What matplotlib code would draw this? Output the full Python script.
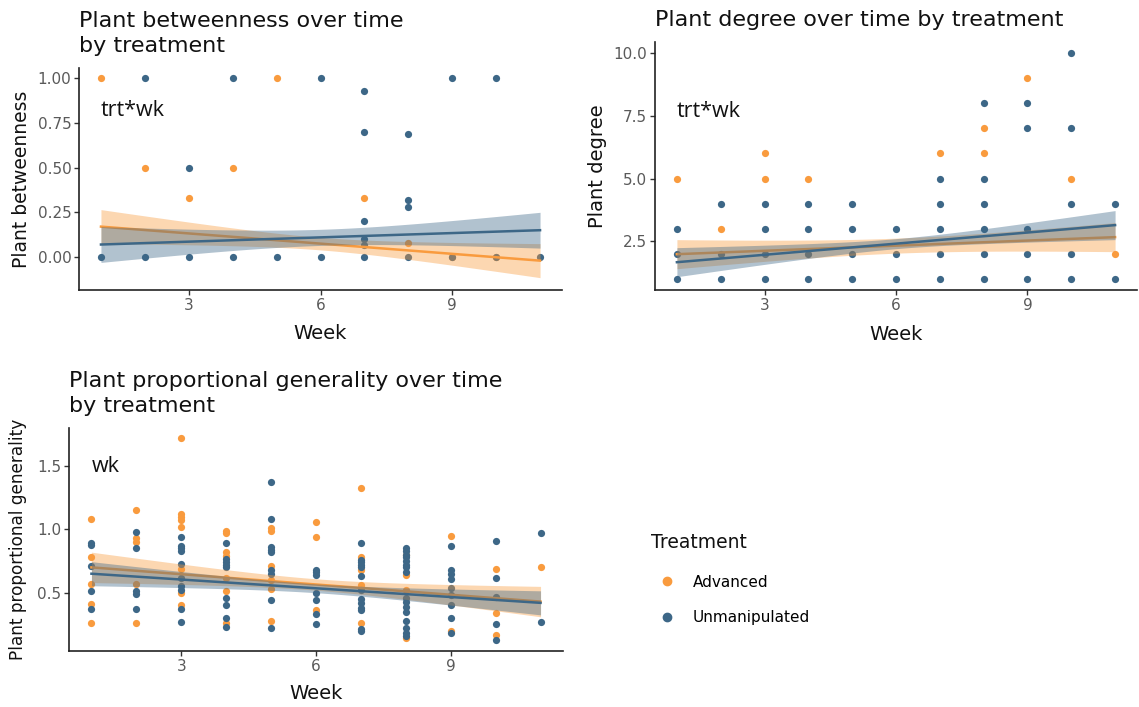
import numpy as np
import matplotlib
matplotlib.use("Agg")
import matplotlib.pyplot as plt
from matplotlib.lines import Line2D

plt.rcParams["font.family"] = ["DejaVu Sans"]

ORANGE = "#F99B3E"
BLUE = "#3D6787"
TREATMENTS = ["Advanced", "Unmanipulated"]

# --- Plant betweenness ---
btw_adv_wk = [1, 2, 3, 4, 5, 7, 8, 9, 10]
btw_adv_val = [1.00, 0.50, 0.33, 0.50, 1.00, 0.33, 0.08, 0.00, 0.00]
btw_unm_wk = [1, 2, 3, 4, 5, 6, 7, 8, 9, 10, 11,
              2, 4, 6, 9, 10, 3, 7, 7, 7, 7, 7, 8, 8, 8]
btw_unm_val = [0, 0, 0, 0, 0, 0, 0, 0, 0, 0, 0,
               1.00, 1.00, 1.00, 1.00, 1.00, 0.50, 0.93, 0.70, 0.20, 0.10, 0.07,
               0.69, 0.32, 0.28]
# fitted lm line (value at week 1, value at week 11) and CI half widths (ends, middle)
btw_fit_adv = [0.17, -0.02, 0.095, 0.035]
btw_fit_unm = [0.07, 0.15, 0.10, 0.045]

# --- Plant degree ---
deg_adv_wk = [1, 2, 3, 3, 4, 7, 8, 8, 9, 10, 11]
deg_adv_val = [5, 3, 6, 5, 5, 6, 7, 6, 9, 5, 2]
deg_unm_wk = [1, 1, 1, 2, 2, 2, 3, 3, 3, 3, 4, 4, 4, 4, 5, 5, 5, 5, 6, 6, 6,
              7, 7, 7, 7, 7, 8, 8, 8, 8, 8, 8, 9, 9, 9, 9, 9, 10, 10, 10, 10, 10, 11, 11]
deg_unm_val = [3, 2, 1, 4, 2, 1, 4, 3, 2, 1, 4, 3, 2, 1, 4, 3, 2, 1, 3, 2, 1,
               5, 4, 3, 2, 1, 8, 5, 4, 3, 2, 1, 8, 7, 3, 2, 1, 10, 7, 4, 2, 1, 4, 1]
deg_fit_adv = [1.98, 2.66, 0.58, 0.30]
deg_fit_unm = [1.66, 3.14, 0.58, 0.20]

# --- Plant proportional generality ---
gen_adv = {
    1: [1.08, 0.78, 0.57, 0.41, 0.26],
    2: [1.15, 0.93, 0.90, 0.57, 0.26],
    3: [1.72, 1.12, 1.10, 1.07, 1.02, 0.69, 0.50, 0.40],
    4: [0.99, 0.97, 0.82, 0.79, 0.62, 0.51, 0.26],
    5: [1.01, 0.99, 0.71, 0.60, 0.53, 0.28],
    6: [1.06, 0.94, 0.36],
    7: [1.33, 0.78, 0.68, 0.56, 0.26],
    8: [0.80, 0.64, 0.52, 0.14],
    9: [0.95, 0.20],
    10: [0.69, 0.34, 0.17],
    11: [0.70],
}
gen_unm = {
    1: [0.89, 0.88, 0.71, 0.51, 0.37],
    2: [0.98, 0.85, 0.51, 0.49, 0.37],
    3: [0.94, 0.87, 0.85, 0.83, 0.73, 0.62, 0.55, 0.52, 0.37, 0.27],
    4: [0.89, 0.77, 0.74, 0.72, 0.70, 0.46, 0.40, 0.30, 0.23],
    5: [1.37, 1.08, 0.86, 0.84, 0.82, 0.68, 0.65, 0.44, 0.22],
    6: [0.68, 0.66, 0.64, 0.50, 0.44, 0.33, 0.25],
    7: [0.89, 0.76, 0.74, 0.72, 0.70, 0.63, 0.52, 0.45, 0.42, 0.38, 0.36, 0.21, 0.20],
    8: [0.85, 0.83, 0.80, 0.78, 0.75, 0.72, 0.70, 0.66, 0.46, 0.43, 0.39, 0.35,
        0.28, 0.22, 0.18, 0.16],
    9: [0.87, 0.68, 0.65, 0.61, 0.54, 0.48, 0.40, 0.30, 0.18],
    10: [0.91, 0.62, 0.47, 0.25, 0.13],
    11: [0.97, 0.27],
}
gen_fit_adv = [0.70, 0.43, 0.12, 0.045]
gen_fit_unm = [0.65, 0.42, 0.095, 0.035]


def flatten(d):
    wk = [k for k, vals in d.items() for _ in vals]
    val = [v for vals in d.values() for v in vals]
    return wk, val


def draw_fit(ax, fit, color, z):
    y1, y11, hw_end, hw_mid = fit
    x = np.linspace(1, 11, 81)
    y = y1 + (y11 - y1) * (x - 1) / 10
    hw = np.sqrt(hw_mid ** 2 + (hw_end ** 2 - hw_mid ** 2) * ((x - 6) / 5) ** 2)
    ax.fill_between(x, y - hw, y + hw, color=color, alpha=0.4, lw=0, zorder=z)
    ax.plot(x, y, color=color, lw=1.8, zorder=z + 0.5)


def style_axes(ax, ylabel, ylab_x, xlab_y, ylab_size=14):
    for s in ("top", "right"):
        ax.spines[s].set_visible(False)
    for s in ("left", "bottom"):
        ax.spines[s].set_linewidth(1.2)
        ax.spines[s].set_color("#222222")
    ax.tick_params(length=3.5, width=1, color="#333333", labelsize=11,
                   labelcolor="#5A5A5A", pad=2)
    ax.set_xlim(0.5, 11.5)
    ax.set_xticks([3, 6, 9])
    ax.set_xlabel("Week", fontsize=14, color="#111111")
    ax.set_ylabel(ylabel, fontsize=ylab_size, color="#111111")
    ax.xaxis.set_label_coords(0.5, xlab_y)
    ax.yaxis.set_label_coords(ylab_x, 0.5)


W, H = 1139, 707
fig = plt.figure(figsize=(W / 100, H / 100), dpi=100)


def add_axes(left, top, right, bottom):
    return fig.add_axes([left / W, 1 - bottom / H, (right - left) / W, (bottom - top) / H])


ax1 = add_axes(79, 68, 562, 290)
ax2 = add_axes(655, 42, 1137, 290)
ax3 = add_axes(69, 428, 563, 651)

note_kw = dict(fontsize=15.5, family=["Open Sans", "DejaVu Sans"],
               ha="left", va="center", color="#111111")

# panel 1
ax1.scatter(btw_adv_wk, btw_adv_val, s=27, color=ORANGE, lw=0, zorder=1)
ax1.scatter(btw_unm_wk, btw_unm_val, s=27, color=BLUE, lw=0, zorder=1.1)
draw_fit(ax1, btw_fit_adv, ORANGE, 2)
draw_fit(ax1, btw_fit_unm, BLUE, 3)
ax1.set_ylim(-0.184, 1.056)
ax1.set_yticks([0, 0.25, 0.5, 0.75, 1.0])
ax1.set_yticklabels(["0.00", "0.25", "0.50", "0.75", "1.00"])
style_axes(ax1, "Plant betweenness", -0.100, -0.155, 13.5)
ax1.text(1, 0.82, "trt*wk", **note_kw)

# panel 2
ax2.scatter(deg_adv_wk, deg_adv_val, s=27, color=ORANGE, lw=0, zorder=1)
ax2.scatter(deg_unm_wk, deg_unm_val, s=27, color=BLUE, lw=0, zorder=1.1)
draw_fit(ax2, deg_fit_adv, ORANGE, 2)
draw_fit(ax2, deg_fit_unm, BLUE, 3)
ax2.set_ylim(0.55, 10.45)
ax2.set_yticks([2.5, 5.0, 7.5, 10.0])
ax2.set_yticklabels(["2.5", "5.0", "7.5", "10.0"])
style_axes(ax2, "Plant degree", -0.10, -0.14)
ax2.text(1, 7.66, "trt*wk", **note_kw)

# panel 3
wk_a, val_a = flatten(gen_adv)
wk_u, val_u = flatten(gen_unm)
ax3.scatter(wk_a, val_a, s=27, color=ORANGE, lw=0, zorder=1)
ax3.scatter(wk_u, val_u, s=27, color=BLUE, lw=0, zorder=1.1)
draw_fit(ax3, gen_fit_adv, ORANGE, 2)
draw_fit(ax3, gen_fit_unm, BLUE, 3)
ax3.set_ylim(0.04, 1.80)
ax3.set_yticks([0.5, 1.0, 1.5])
ax3.set_yticklabels(["0.5", "1.0", "1.5"])
style_axes(ax3, "Plant proportional generality", -0.085, -0.148, 12.2)
ax3.text(1, 1.5, "wk", **note_kw)

# titles
title_kw = dict(fontsize=16, color="#111111", ha="left", va="top", linespacing=1.3)
fig.text(79 / W, 1 - 11 / H, "Plant betweenness over time\nby treatment", **title_kw)
fig.text(655 / W, 1 - 10 / H, "Plant degree over time by treatment", **title_kw)
fig.text(69 / W, 1 - 371 / H, "Plant proportional generality over time\nby treatment", **title_kw)

# legend
fig.text(651 / W, 1 - 543 / H, "Treatment", fontsize=13.5, color="#111111",
         ha="left", va="center")
handles = [Line2D([], [], ls="none", marker="o", ms=6, color=c, label=t)
           for c, t in zip([ORANGE, BLUE], TREATMENTS)]
fig.legend(handles=handles, loc="upper left", bbox_to_anchor=(644 / W, 1 - 561 / H),
           frameon=False, fontsize=11, labelspacing=1.33,
           handletextpad=1.1, handlelength=1.2)

fig.savefig("out.png", dpi=100)
